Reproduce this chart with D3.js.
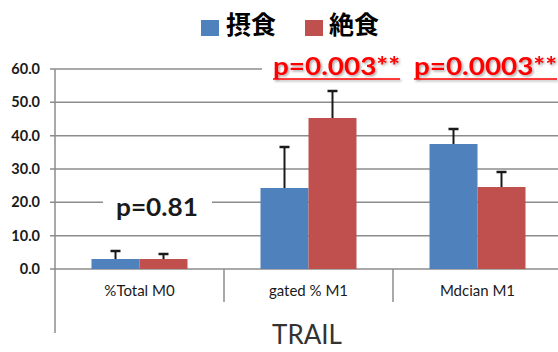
<!DOCTYPE html>
<html>
<head>
<meta charset="utf-8">
<script src="https://cdn.jsdelivr.net/npm/d3@7"></script>
<style>
  html, body { margin: 0; padding: 0; background: #fff; }
  svg { display: block; }
</style>
</head>
<body>
<svg id="chart" width="558" height="352"></svg>
<script>
// TRAIL: fed vs fasted groups
const categories = ["%Total M0", "gated % M1", "Mdcian M1"];
const seriesNames = ["摂食", "絶食"];
const fedMeans = [3.0, 24.3, 37.5];
const fedErr = [2.4, 12.3, 4.5];
const fastMeans = [3.0, 45.3, 24.6];
const fastErr = [1.5, 8.1, 4.5];
const yTicks = [0, 10, 20, 30, 40, 50, 60];
const pLabels = ["p=0.81", "p=0.003**", "p=0.0003**"];
const axisTitle = "TRAIL";

const colors = ["#4F81BD", "#C0504D"];
const gridColor = "#8c8c8c";
const latin = "Lato, 'Open Sans', 'DejaVu Sans', sans-serif";
const cjk = "'Noto Sans CJK JP', 'Noto Sans CJK SC', sans-serif";

const svg = d3.select("#chart");
const plotLeft = 55, plotRight = 562, plotTop = 69, plotBottom = 269;

const x = d3.scaleBand().domain(categories).range([plotLeft, plotRight]).paddingInner(0).paddingOuter(0);
const y = d3.scaleLinear().domain([0, 60]).range([plotBottom, plotTop]);
const barW = 48;

// gridlines
svg.append("g").selectAll("line").data(yTicks).join("line")
  .attr("x1", plotLeft - 5).attr("x2", plotRight)
  .attr("y1", d => y(d)).attr("y2", d => y(d))
  .attr("stroke", gridColor).attr("stroke-width", 1.5);

// y tick labels
svg.append("g").selectAll("text").data(yTicks).join("text")
  .attr("x", 40).attr("y", d => y(d)).attr("dy", "0.35em")
  .attr("text-anchor", "end")
  .attr("font-family", latin).attr("font-size", 14.5).attr("font-weight", 700)
  .attr("fill", "#1a1a1a")
  .text(d => d.toFixed(1));

// vertical axis line
svg.append("line").attr("x1", plotLeft).attr("x2", plotLeft).attr("y1", plotTop).attr("y2", 333)
  .attr("stroke", gridColor).attr("stroke-width", 1.5);

// category separators
svg.append("g").selectAll("line").data(categories.slice(1)).join("line")
  .attr("x1", d => x(d)).attr("x2", d => x(d))
  .attr("y1", plotBottom).attr("y2", 302)
  .attr("stroke", gridColor).attr("stroke-width", 1.5);

// category labels
svg.append("g").selectAll("text").data(categories).join("text")
  .attr("x", d => x(d) + x.bandwidth() / 2).attr("y", 291).attr("dy", "0.35em")
  .attr("text-anchor", "middle")
  .attr("font-family", latin).attr("font-size", 15)
  .attr("fill", "#1a1a1a")
  .text(d => d);

// bars + error bars
const series = [
  { means: fedMeans, err: fedErr, offset: -barW, color: colors[0] },
  { means: fastMeans, err: fastErr, offset: 0, color: colors[1] }
];
series.forEach(s => {
  const g = svg.append("g");
  g.selectAll("rect").data(categories).join("rect")
    .attr("x", (d) => x(d) + x.bandwidth() / 2 + s.offset)
    .attr("y", (d, i) => y(s.means[i]))
    .attr("width", barW)
    .attr("height", (d, i) => y(0) - y(s.means[i]))
    .attr("fill", s.color);
  const eb = svg.append("g");
  categories.forEach((c, i) => {
    const cx = x(c) + x.bandwidth() / 2 + s.offset + barW / 2;
    const y0 = y(s.means[i]), y1 = y(s.means[i] + s.err[i]);
    eb.append("line").attr("x1", cx).attr("x2", cx).attr("y1", y0).attr("y2", y1)
      .attr("stroke", "#1a1a1a").attr("stroke-width", 2);
    eb.append("line").attr("x1", cx - 5).attr("x2", cx + 5).attr("y1", y1).attr("y2", y1)
      .attr("stroke", "#1a1a1a").attr("stroke-width", 2.5);
  });
});

// p-value labels with white backing
svg.append("rect").attr("x", 103).attr("y", 183).attr("width", 109).attr("height", 48).attr("fill", "#fff");
svg.append("text").attr("x", 157).attr("y", 216).attr("text-anchor", "middle")
  .attr("font-family", latin).attr("font-size", 24).attr("font-weight", 700)
  .attr("fill", "#1a1a1a")
  .attr("textLength", 82).attr("lengthAdjust", "spacingAndGlyphs")
  .text(pLabels[0]);

svg.append("rect").attr("x", 262).attr("y", 50).attr("width", 300).attr("height", 34).attr("fill", "#fff");
const defs = svg.append("defs");
const f = defs.append("filter").attr("id", "shadow").attr("x", "-10%").attr("y", "-30%").attr("width", "130%").attr("height", "160%");
f.append("feDropShadow").attr("dx", 1.5).attr("dy", 1.5).attr("stdDeviation", 1).attr("flood-color", "#000").attr("flood-opacity", 0.35);

const redLabels = [
  { text: pLabels[1], x: 273, w: 127 },
  { text: pLabels[2], x: 414, w: 143 }
];
redLabels.forEach(l => {
  const g = svg.append("g").attr("filter", "url(#shadow)");
  g.append("text").attr("x", l.x).attr("y", 75)
    .attr("font-family", latin).attr("font-size", 25).attr("font-weight", 700)
    .attr("fill", "#ff0000")
    .attr("textLength", l.w).attr("lengthAdjust", "spacingAndGlyphs")
    .text(l.text);
  g.append("line").attr("x1", l.x).attr("x2", l.x + l.w).attr("y1", 79).attr("y2", 79)
    .attr("stroke", "#ff0000").attr("stroke-width", 1.5);
});

// legend
const legendItems = [
  { name: seriesNames[0], color: colors[0], sx: 201, tx: 226 },
  { name: seriesNames[1], color: colors[1], sx: 305, tx: 329 }
];
legendItems.forEach(l => {
  svg.append("rect").attr("x", l.sx).attr("y", 20).attr("width", 18).attr("height", 16).attr("fill", l.color);
  svg.append("text").attr("x", l.tx).attr("y", 34)
    .attr("font-family", cjk).attr("font-size", 25).attr("font-weight", 700)
    .attr("fill", "#000")
    .text(l.name);
});

// axis title
svg.append("text").attr("x", 307).attr("y", 344).attr("text-anchor", "middle")
  .attr("font-family", latin).attr("font-size", 26)
  .attr("fill", "#333")
  .text(axisTitle);
</script>
</body>
</html>
